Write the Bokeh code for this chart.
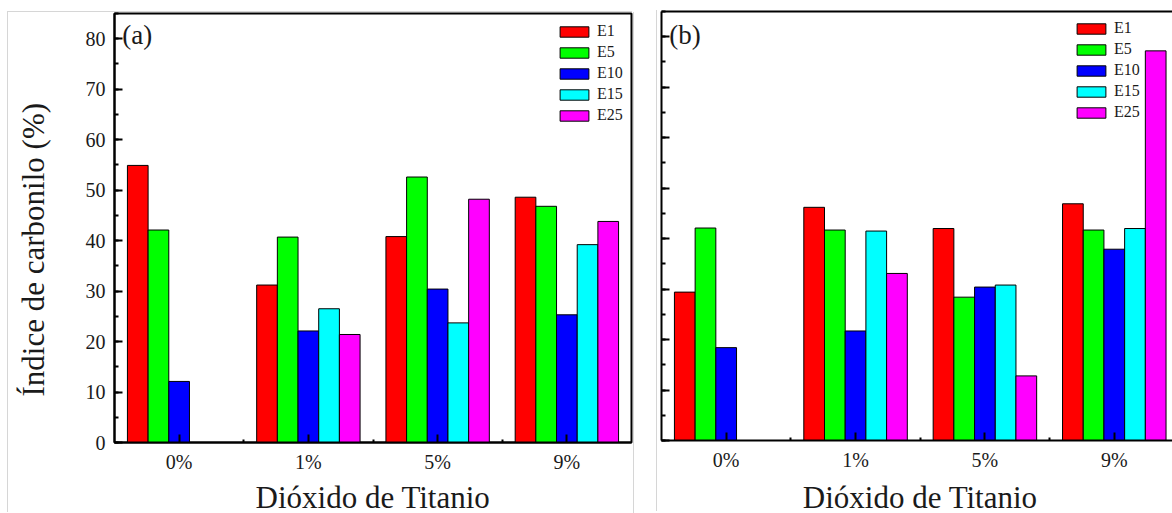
import numpy as np
from bokeh.plotting import figure
from bokeh.layouts import row
from bokeh.models import (ColumnDataSource, FixedTicker, SingleIntervalTicker, LinearAxis,
                          Label, Range1d, Legend, CustomLabelingPolicy)
from bokeh.embed import file_html
from bokeh.resources import INLINE

# Carbonyl index (%) per TiO2 loading and exposure stage
categories = ["0%", "1%", "5%", "9%"]
series = ["E1", "E5", "E10", "E15", "E25"]
colors = ["#ff0000", "#00ff00", "#0000ff", "#00ffff", "#ff00ff"]

a_E1 = [54.9, 31.2, 40.8, 48.6]
a_E5 = [42.1, 40.7, 52.6, 46.8]
a_E10 = [12.1, 22.1, 30.4, 25.3]
a_E15 = [None, 26.5, 23.7, 39.2]
a_E25 = [None, 21.4, 48.2, 43.8]

b_E1 = [29.4, 46.2, 42.0, 46.9]
b_E5 = [42.1, 41.7, 28.4, 41.7]
b_E10 = [18.4, 21.7, 30.4, 37.9]
b_E15 = [None, 41.5, 30.8, 42.0]
b_E25 = [None, 33.1, 12.8, 77.2]

y_ticks_interval = 10
x_title = "Dióxido de Titanio"
y_title = "Índice de carbonilo (%)"

FONT = "Liberation Serif"
INK = "#1a1a1a"
BAR_W = 0.16


def as_array(vals):
    return np.array([np.nan if v is None else v for v in vals], dtype=float)


def build_panel(values, tag, tag_y, x_end, width, height, borders, margin, show_ylabels,
                boxed, legend_xy, xlabel_y):
    top_b, right_b, bottom_b, left_b = borders
    p = figure(width=width, height=height, output_backend="svg", toolbar_location=None,
               title=None,
               x_range=Range1d(-0.5, x_end), y_range=Range1d(0, 85),
               min_border_top=top_b, min_border_right=right_b,
               min_border_bottom=bottom_b, min_border_left=left_b,
               background_fill_color="white", border_fill_color="white")
    p.title_location = None
    p.margin = margin
    p.grid.visible = False

    idx = np.arange(len(categories))
    offsets = (np.arange(len(series)) - (len(series) - 1) / 2) * BAR_W
    items = []
    for name, col, vals, off in zip(series, colors, values, offsets):
        src = ColumnDataSource(dict(x=idx + off, top=as_array(vals)))
        r = p.vbar(x="x", top="top", bottom=0, width=BAR_W, source=src,
                   fill_color=col, line_color="black", line_width=1)
        items.append((name, [r]))

    xax = p.xaxis[0]
    xax.ticker = FixedTicker(ticks=list(idx), minor_ticks=list(idx[:-1] + 0.5))
    xax.major_label_overrides = {int(i): c for i, c in enumerate(categories)}
    yax = p.yaxis[0]
    yax.ticker = SingleIntervalTicker(interval=y_ticks_interval, num_minor_ticks=2)
    for ax in (xax, yax):
        ax.axis_line_width = 2
        ax.axis_line_color = "black"
        ax.major_tick_in = 8
        ax.major_tick_out = 0
        ax.major_tick_line_width = 2
        ax.minor_tick_out = 0
        ax.minor_tick_line_width = 2
        ax.major_label_text_font = FONT
        ax.major_label_text_font_size = "20px"
        ax.major_label_text_color = INK
    xax.minor_tick_in = 3
    yax.minor_tick_in = 4
    xax.major_label_standoff = 8
    yax.major_label_standoff = 9
    if not show_ylabels:
        # tick marks only, no numbers on this panel's value axis
        yax.major_label_policy = CustomLabelingPolicy(code="return")
        yax.major_label_text_font_size = "1px"
        yax.major_label_standoff = 0

    if boxed:
        p.outline_line_color = "black"
        p.outline_line_width = 2
    else:
        p.outline_line_color = None
        top_ax = LinearAxis(ticker=FixedTicker(ticks=[]), axis_line_width=2,
                            axis_line_color="black", major_label_standoff=0,
                            major_tick_line_color=None, minor_tick_line_color=None)
        p.add_layout(top_ax, "above")

    legend = Legend(items=items, location=legend_xy, margin=0, padding=0,
                    border_line_color=None, background_fill_alpha=0,
                    glyph_width=36, glyph_height=13, label_height=13,
                    label_standoff=5, spacing=3,
                    label_text_font=FONT, label_text_font_size="16px",
                    label_text_color=INK)
    p.add_layout(legend)

    p.add_layout(Label(x=-0.44, y=tag_y, text=tag, text_font=FONT,
                       text_font_size="27px", text_color=INK, text_baseline="middle"))
    p.add_layout(Label(x=1.5, y=xlabel_y, text=x_title, text_font=FONT,
                       text_font_size="31px", text_color=INK, text_align="center",
                       text_baseline="middle"), "below")
    return p


pa = build_panel([a_E1, a_E5, a_E10, a_E15, a_E25], "(a)", 80.7, 3.5, 625, 501,
                 (1, 2, 71, 106), (12, 0, 0, 8), True, True, (442, 318), -10.8)
pa.add_layout(Label(x=-1.127, y=38.2, text=y_title, text_font=FONT,
                    text_font_size="31px", text_color=INK, angle=np.pi / 2,
                    text_align="center", text_baseline="middle"), "left")
pa.styles = {"box-shadow": "-1px -1px 0 0 #d6d6d6, 1px 0 0 0 #d6d6d6"}

pb = build_panel([b_E1, b_E5, b_E10, b_E15, b_E25], "(b)", 80.4, 3.45, 515, 501,
                 (1, 0, 71, 2), (10, 0, 2, 24), False, False, (412, 319), -11.2)
pb.styles = {"box-shadow": "-1px 0 0 0 #d6d6d6"}

layout = row(pa, pb)
open("out.html", "w").write(file_html(layout, INLINE))
